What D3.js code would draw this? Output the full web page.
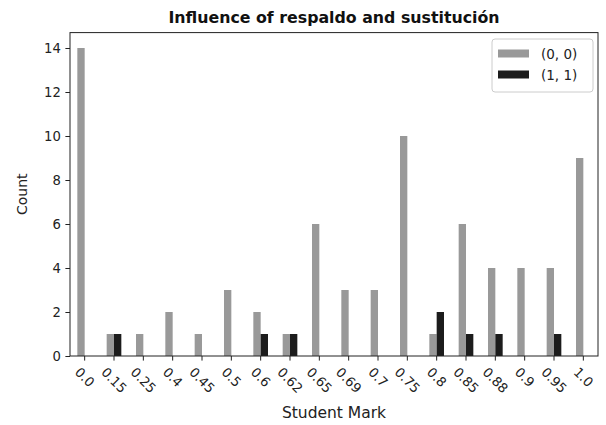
<!DOCTYPE html>
<html>
<head>
<meta charset="utf-8">
<script src="https://cdn.jsdelivr.net/npm/d3@7"></script>
<style>
  body { margin: 0; background: #fff; }
  svg { font-family: "DejaVu Sans", sans-serif; }
</style>
</head>
<body>
<svg id="chart" width="606" height="425"></svg>
<script>
const categories = ["0.0","0.15","0.25","0.4","0.45","0.5","0.6","0.62","0.65","0.69","0.7","0.75","0.8","0.85","0.88","0.9","0.95","1.0"];
const seriesNames = ["(0, 0)", "(1, 1)"];
const values00 = [14, 1, 1, 2, 1, 3, 2, 1, 6, 3, 3, 10, 1, 6, 4, 4, 4, 9];
const values11 = [0, 1, 0, 0, 0, 0, 1, 1, 0, 0, 0, 0, 2, 1, 1, 0, 1, 0];
const yTicks = [0, 2, 4, 6, 8, 10, 12, 14];
const colors = ["#999999", "#1c1c1c"];

const svg = d3.select("#chart");
const m = { left: 70, right: 598, top: 32.6, bottom: 356 };
const tickFont = 13.2, labelFont = 15.5, yLabelFont = 14, titleFont = 15.8, legendFont = 13.5;
const tickLen = 4.6, tickPad = 4.6;

const x = d3.scaleBand().domain(categories).range([m.left, m.right]).paddingInner(0).paddingOuter(0);
const y = d3.scaleLinear().domain([0, 14.7]).range([m.bottom, m.top]);

const groupW = x.bandwidth() * 0.5;
const sub = d3.scaleBand().domain(seriesNames).range([-groupW / 2, groupW / 2]);

const series = [values00, values11];
series.forEach((vals, si) => {
  svg.append("g").selectAll("rect").data(vals).join("rect")
    .attr("x", (d, i) => x(categories[i]) + x.bandwidth() / 2 + sub(seriesNames[si]))
    .attr("width", sub.bandwidth())
    .attr("y", d => y(d))
    .attr("height", d => y(0) - y(d))
    .attr("fill", colors[si]);
});

// y axis
const yAxis = svg.append("g").attr("transform", `translate(${m.left},0)`)
  .call(d3.axisLeft(y).tickValues(yTicks).tickSize(tickLen).tickPadding(tickPad));
yAxis.select(".domain").remove();
yAxis.selectAll("text").attr("font-size", tickFont).attr("fill", "#222").attr("font-family", "DejaVu Sans");
yAxis.selectAll("line").attr("stroke", "#222");

// x axis
const xAxis = svg.append("g").attr("transform", `translate(0,${m.bottom})`)
  .call(d3.axisBottom(x).tickSize(tickLen).tickFormat(""));
xAxis.select(".domain").remove();
xAxis.selectAll("line").attr("stroke", "#222");

// rotated x tick labels, centered under each tick
const labelG = svg.append("g");
categories.forEach(c => {
  const t = labelG.append("text").text(c)
    .attr("font-size", tickFont).attr("fill", "#222")
    .attr("text-anchor", "middle").attr("dominant-baseline", "central");
  const w = t.node().getComputedTextLength();
  const bh = (w + tickFont) / Math.SQRT2;
  const cx = x(c) + x.bandwidth() / 2;
  const cy = m.bottom + tickLen + tickPad + bh / 2;
  t.attr("transform", `translate(${cx},${cy}) rotate(45)`);
});

// frame
svg.append("rect").attr("x", m.left).attr("y", m.top)
  .attr("width", m.right - m.left).attr("height", m.bottom - m.top)
  .attr("fill", "none").attr("stroke", "#222").attr("stroke-width", 1);

// title and axis labels
svg.append("text").attr("x", (m.left + m.right) / 2).attr("y", 23)
  .attr("text-anchor", "middle").attr("font-size", titleFont).attr("font-weight", "bold")
  .attr("fill", "#111").text("Influence of respaldo and sustitución");
svg.append("text").attr("x", (m.left + m.right) / 2).attr("y", 418)
  .attr("text-anchor", "middle").attr("font-size", labelFont).attr("fill", "#222").text("Student Mark");
svg.append("text").attr("transform", `translate(27,${(m.top + m.bottom) / 2}) rotate(-90)`)
  .attr("text-anchor", "middle").attr("font-size", yLabelFont).attr("fill", "#222").text("Count");

// legend
const lg = svg.append("g");
lg.append("rect").attr("x", 492).attr("y", 39).attr("width", 101).attr("height", 53)
  .attr("rx", 3).attr("fill", "#fff").attr("fill-opacity", 0.8).attr("stroke", "#ccc");
seriesNames.forEach((s, i) => {
  lg.append("rect").attr("x", 498).attr("y", 49.5 + i * 21).attr("width", 31).attr("height", 8)
    .attr("fill", colors[i]);
  lg.append("text").attr("x", 541).attr("y", 58.5 + i * 21).attr("font-size", legendFont)
    .attr("fill", "#222").text(s);
});
</script>
</body>
</html>
